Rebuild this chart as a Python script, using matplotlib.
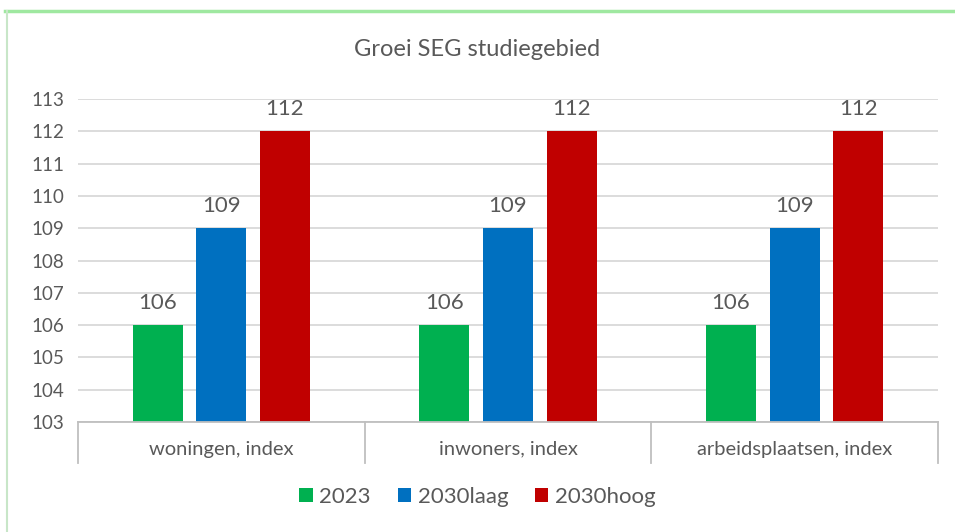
import numpy as np
import matplotlib.pyplot as plt
from matplotlib.lines import Line2D

categories = ['woningen, index', 'inwoners, index', 'arbeidsplaatsen, index']
series = ['2023', '2030laag', '2030hoog']
values_2023 = [106, 106, 106]
values_laag = [109, 109, 109]
values_hoog = [112, 112, 112]
colors = ['#00B050', '#0070C0', '#C00000']

plt.rcParams['font.family'] = ['Lato', 'DejaVu Sans']
txt = '#595959'

fig = plt.figure(figsize=(9.55, 5.32), dpi=100)
ax = fig.add_axes([78 / 955, 1 - 422 / 532, 860 / 955, 323 / 532])

x = np.arange(len(categories))
width = 0.175
step = 0.222
for i, (name, vals) in enumerate(zip(series, [values_2023, values_laag, values_hoog])):
    bars = ax.bar(x + (i - 1) * step, np.array(vals) - 103, width, bottom=103,
                  color=colors[i], label=name, zorder=3)
    for b, v in zip(bars, vals):
        ax.text(b.get_x() + b.get_width() / 2, v + 0.38, str(v), ha='center', va='bottom',
                fontsize=16, color=txt)

ax.set_ylim(103, 113)
ax.set_xlim(-0.5, 2.5)
ax.set_yticks(range(103, 114))
ax.tick_params(axis='y', length=0, labelsize=13.5, labelcolor=txt, pad=10)
ax.set_xticks([])
ax.grid(True, axis='y', color='#D9D9D9', lw=1.3, zorder=0)
for s in ['top', 'right', 'left']:
    ax.spines[s].set_visible(False)
ax.spines['bottom'].set_color('#BFBFBF')
ax.spines['bottom'].set_linewidth(1.3)
ax.spines['bottom'].set_zorder(4)

tr = ax.get_xaxis_transform()
for xs in [-0.5, 0.5, 1.5, 2.5]:
    ax.plot([xs, xs], [0, -41 / 323], transform=tr, color='#BFBFBF', lw=1.3, clip_on=False)
for xc, c in zip(x, categories):
    ax.text(xc, -27 / 323, c, transform=tr, ha='center', va='center', fontsize=14.5, color=txt)

fig.text(0.5, 1 - 50 / 532, 'Groei SEG studiegebied', ha='center', va='center', fontsize=17, color=txt)

handles, labels = ax.get_legend_handles_labels()
fig.legend(handles, labels, loc='center', bbox_to_anchor=(0.5, 1 - 497 / 532), ncol=3,
           frameon=False, fontsize=16, labelcolor=txt, handlelength=0.6, handleheight=0.6,
           handletextpad=0.3, columnspacing=1.2)

fig.add_artist(Line2D([5 / 955, 1], [1 - 11 / 532] * 2, color='#9FE8A0', lw=2.5))
fig.add_artist(Line2D([7 / 955] * 2, [0, 1 - 11 / 532], color='#C8E6C8', lw=1.5))

fig.savefig('out.png', dpi=100)
